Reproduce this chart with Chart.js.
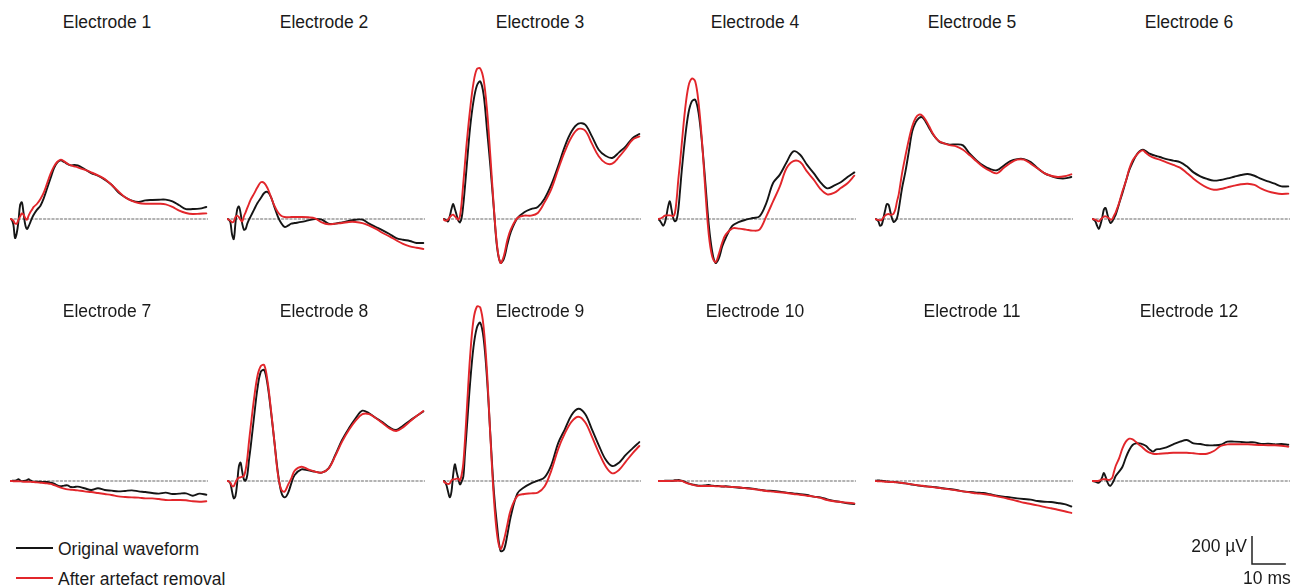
<!doctype html>
<html lang="en">
<head>
<meta charset="utf-8">
<title>Electrode waveforms</title>
<script src="https://cdn.jsdelivr.net/npm/chart.js@4.4.1/dist/chart.umd.min.js"></script>
<style>
  body { margin:0; width:1305px; height:586px; overflow:hidden; position:relative; background:#fff;
         font-family:"Liberation Sans", Arial, sans-serif; color:#1a1a1a; }
  canvas { position:absolute; }
  .title { position:absolute; width:200px; text-align:center; font-size:17.5px; line-height:17.5px; }
  .key { position:absolute; left:16px; font-size:17.5px; line-height:18px; padding-left:42px; white-space:nowrap; }
  .key span { position:absolute; left:0; top:7.4px; width:37px; height:1.8px; }
</style>
</head>
<body>

<div class="key" style="top:540px"><span style="background:#151515"></span>Original waveform</div>
<div class="key" style="top:569.5px"><span style="background:#e2262b"></span>After artefact removal</div>

<script>
// sample times (ms), shared by every electrode
const timeMs = [0,0.5,1,1.5,2,2.5,3,3.5,4,4.5,5,5.5,6,6.5,7, 8,9,10,11,12,13,14,15,16,17,18,19,20,
  22,24,26,28,30,32,34,36,38,40,42,44,46,48,50,52,54,56,58];

const electrodeNames = ['Electrode 1','Electrode 2','Electrode 3','Electrode 4','Electrode 5','Electrode 6',
  'Electrode 7','Electrode 8','Electrode 9','Electrode 10','Electrode 11','Electrode 12'];

// µV, original waveform (black)
const original1 = [0,-5,-40,-136,-100,-17,102,119,43,-40,-71,-52,-24,7,31, 67,95,150,221,293,364,405,419,407,393,383,386,383, 357,328,309,281,245,190,155,131,121,133,136,138,138,126,98,71,71,74,86];
const original2 = [0,-5,-24,-112,-143,-29,67,90,43,-33,-76,-71,-33,-5,19, 67,114,150,186,193,157,86,19,-29,-57,-48,-33,-29, -21,-10,0,-5,-33,-33,-24,-14,-5,-5,-33,-57,-81,-107,-136,-148,-157,-171,-171];
const original3 = [0,-2,-10,-17,19,71,107,71,31,-10,-24,7,102,233,376, 650,840,952,983,888,638,376,79,-207,-314,-283,-183,-95, 7,48,71,86,145,245,376,519,626,681,674,590,495,452,436,476,519,578,607];
const original4 = [0,-10,-29,-48,-29,24,90,126,67,7,-17,-5,67,198,340, 578,757,840,852,757,543,257,-40,-231,-314,-279,-195,-136, -48,-21,-5,7,19,114,257,317,405,483,459,388,328,262,219,238,262,300,333];
const original5 = [0,-5,-17,-48,-40,7,62,107,102,55,7,-21,-14,7,67, 221,340,483,626,690,721,726,693,650,609,578,552,543, 531,533,526,466,419,381,357,348,381,414,428,428,407,364,328,307,293,290,300];
const original6 = [0,-5,-17,-48,-71,-40,7,67,79,38,-5,-29,-17,7,31, 109,186,269,348,405,452,483,495,483,467,457,450,443, 428,417,407,376,333,305,286,274,279,290,302,314,321,309,286,269,252,233,233];
const original7 = [0,1,2,2,7,12,5,-2,0,2,7,12,5,-2,-5, -5,-5,-7,-7,-12,-19,-31,-38,-33,-31,-43,-43,-40, -52,-64,-52,-64,-69,-74,-71,-67,-74,-79,-86,-90,-83,-93,-90,-88,-105,-90,-98];
const original8 = [0,-2,-17,-76,-124,-107,-17,102,131,67,12,2,43,150,245, 459,662,781,793,685,495,281,67,-76,-117,-88,-17,43, 83,76,67,60,90,186,293,376,448,502,483,450,419,383,364,395,431,464,497];
const original9 = [0,-2,-29,-76,-117,-76,43,119,67,19,-24,-5,31,198,364, 697,954,1095,1131,1019,733,328,-64,-326,-500,-490,-386,-255, -88,-45,-17,2,26,114,269,369,471,516,478,369,257,155,107,131,186,233,278];
const original10 = [0,0,0,0,2,2,2,2,2,2,5,5,7,5,2, -7,-17,-24,-29,-33,-33,-31,-29,-33,-36,-36,-40,-38, -43,-48,-50,-55,-62,-69,-71,-76,-83,-88,-95,-100,-112,-117,-131,-143,-150,-160,-164];
const original11 = [2,3,4,3,2,0,-2,-3,-5,-5,-7,-7,-8,-9,-12, -14,-17,-21,-26,-29,-33,-36,-38,-40,-43,-45,-48,-52, -57,-64,-74,-79,-83,-86,-95,-105,-112,-117,-124,-129,-133,-143,-148,-150,-157,-165,-182];
const original12 = [0,-2,-5,-10,-12,2,26,57,31,-5,-29,-33,-17,7,36, 67,102,167,221,257,269,269,262,250,226,210,226,228, 240,262,281,293,269,264,255,255,259,281,281,279,276,276,264,267,262,264,259];

// µV, after artefact removal (red)
const cleaned1 = [0,-2,-12,-33,-33,-5,19,40,31,7,-5,24,48,67,86, 109,143,190,257,324,376,409,424,412,395,383,376,369, 352,333,312,286,245,198,155,129,114,109,109,109,105,86,60,43,36,38,40];
const cleaned2 = [0,-5,-12,-24,-17,14,24,14,-5,-17,19,48,79,109,138, 181,226,262,257,219,157,95,50,24,14,12,14,14, 14,12,5,-24,-38,-33,-29,-21,-21,-29,-48,-71,-100,-124,-152,-178,-195,-205,-214];
const cleaned3 = [0,-10,-12,-5,14,26,31,19,7,-5,19,114,257,400,543, 781,971,1070,1075,995,781,448,90,-195,-314,-262,-152,-76, 7,24,24,43,119,214,352,483,586,643,631,538,448,400,395,443,502,566,590];
const cleaned4 = [0,2,7,14,24,26,26,26,24,19,43,138,281,400,531, 781,948,1003,983,828,555,198,-112,-267,-309,-248,-167,-112, -67,-69,-76,-83,-76,19,126,233,364,414,407,340,281,214,176,186,221,255,309];
const cleaned5 = [0,-5,-7,-10,-5,12,24,33,36,31,31,38,67,126,174, 328,452,567,662,721,745,738,705,662,614,578,555,543, 528,519,495,455,412,371,343,326,364,400,424,424,395,362,328,309,300,305,319];
const cleaned6 = [0,-2,-5,-12,-17,-5,7,17,19,14,5,-5,0,24,48, 114,198,269,357,419,452,478,490,471,452,440,431,424, 405,386,367,329,288,252,224,209,214,226,238,248,252,243,217,198,186,179,181];
const cleaned7 = [0,0,-2,-2,-2,-2,-3,-3,-5,-5,-5,-5,-5,-7,-7, -10,-12,-14,-17,-21,-29,-38,-48,-55,-60,-62,-64,-67, -74,-79,-86,-93,-100,-110,-114,-117,-119,-124,-124,-129,-136,-136,-136,-138,-145,-148,-145];
const cleaned8 = [0,-2,-12,-36,-36,-10,12,24,26,31,36,79,162,281,388, 590,750,821,828,709,507,281,55,-60,-76,-29,19,74, 102,83,67,60,88,179,281,364,431,478,478,448,412,376,357,383,424,464,500];
const cleaned9 = [0,-10,-17,-21,-17,5,12,12,17,17,2,43,126,293,495, 888,1150,1245,1240,1100,781,317,-112,-386,-486,-421,-314,-207, -107,-93,-88,-83,-40,74,226,340,424,459,419,317,205,107,55,79,138,198,250];
const cleaned10 = [0,0,0,0,0,0,0,0,1,1,2,2,2,2,1, -10,-19,-26,-31,-36,-36,-36,-36,-36,-38,-38,-38,-40, -43,-45,-52,-57,-64,-71,-76,-81,-86,-93,-98,-105,-112,-121,-136,-145,-150,-155,-160];
const cleaned11 = [0,-1,-2,-2,-3,-4,-5,-5,-6,-7,-7,-8,-9,-10,-10, -14,-17,-21,-24,-28,-31,-34,-38,-41,-44,-47,-50,-53, -60,-67,-74,-81,-88,-93,-100,-110,-119,-131,-143,-155,-164,-174,-185,-195,-205,-216,-228];
const cleaned12 = [0,0,0,0,2,7,12,12,12,10,7,12,24,67,107, 162,233,281,302,298,278,257,238,217,202,195,193,195, 198,202,202,202,198,193,195,214,250,262,262,262,262,259,257,255,255,252,245];

const originalSeries = [original1, original2, original3, original4, original5, original6,
  original7, original8, original9, original10, original11, original12];
const cleanedSeries = [cleaned1, cleaned2, cleaned3, cleaned4, cleaned5, cleaned6,
  cleaned7, cleaned8, cleaned9, cleaned10, cleaned11, cleaned12];

// scale bar size, in data units
const barUv = 200;
const barMs = 10;

// layout
const PX_PER_MS = 3.39;
const PX_PER_UV = 0.14;          // 200 µV -> 28 px
const T_MAX = 58.5;
const PAD = 4;
const colLeft = [10, 227, 443, 658, 875, 1092];
const rows = [
  { top: 36,  bottom: 290, base: 219, titleTop: 13.5 },
  { top: 292, bottom: 586, base: 481, titleTop: 302.5 }
];
const BLACK = '#151515';
const RED = '#e2262b';
const FONT = '17.5px "Liberation Sans", Arial, sans-serif';

// draws the L shaped scale bar, its lengths taken from the chart scales
const scaleBar = {
  id: 'scaleBar',
  afterDatasetsDraw(chart, args, opts) {
    const { ctx, scales: { x, y } } = chart;
    const w = x.getPixelForValue(barMs) - x.getPixelForValue(0);
    const h = y.getPixelForValue(0) - y.getPixelForValue(barUv);
    const cx = opts.cornerX, cy = opts.cornerY;
    ctx.save();
    ctx.strokeStyle = '#222';
    ctx.lineWidth = 1.5;
    ctx.beginPath();
    ctx.moveTo(cx, cy - h);
    ctx.lineTo(cx, cy);
    ctx.lineTo(cx + w, cy);
    ctx.stroke();
    ctx.fillStyle = '#1a1a1a';
    ctx.font = FONT;
    ctx.textBaseline = 'alphabetic';
    ctx.textAlign = 'right';
    ctx.fillText(barUv + ' µV', cx - 5, cy - 12);
    ctx.textAlign = 'center';
    ctx.fillText(barMs + ' ms', cx + w / 2 - 2, cy + 20);
    ctx.restore();
  }
};

function toPoints(values) {
  return values.map((v, j) => ({ x: timeMs[j], y: v }));
}

const charts = [];
for (let i = 0; i < electrodeNames.length; i++) {
  const row = rows[Math.floor(i / 6)];
  const col = i % 6;
  const left = colLeft[col] - PAD;
  const width = Math.round(T_MAX * PX_PER_MS) + 2 * PAD;
  const height = row.bottom - row.top;

  const canvas = document.createElement('canvas');
  canvas.width = width;
  canvas.height = height;
  canvas.style.left = left + 'px';
  canvas.style.top = row.top + 'px';
  document.body.appendChild(canvas);

  const title = document.createElement('div');
  title.className = 'title';
  title.style.left = (colLeft[col] + 97 - 100) + 'px';
  title.style.top = row.titleTop + 'px';
  title.textContent = electrodeNames[i];
  document.body.appendChild(title);

  const isLast = i === electrodeNames.length - 1;
  const chart = new Chart(canvas.getContext('2d'), {
    type: 'line',
    data: {
      datasets: [
        { label: 'After artefact removal', data: toPoints(cleanedSeries[i]),
          borderColor: RED, borderWidth: 1.9 },
        { label: 'Original waveform', data: toPoints(originalSeries[i]),
          borderColor: BLACK, borderWidth: 1.9 },
        { label: 'baseline', data: [{ x: 0, y: 0 }, { x: T_MAX, y: 0 }],
          borderColor: '#9a9a9a', borderWidth: 1.5, borderDash: [2, 2.2], tension: 0 }
      ]
    },
    options: {
      responsive: false,
      animation: false,
      devicePixelRatio: 1,
      layout: { padding: { left: PAD, right: PAD, top: 0, bottom: 0 } },
      elements: {
        point: { radius: 0 },
        line: { tension: 0.35, borderCapStyle: 'round', borderJoinStyle: 'round' }
      },
      scales: {
        x: { type: 'linear', min: 0, max: T_MAX, display: false },
        y: { min: -(row.bottom - row.base) / PX_PER_UV, max: (row.base - row.top) / PX_PER_UV, display: false }
      },
      plugins: {
        legend: { display: false },
        tooltip: { enabled: false },
        scaleBar: { cornerX: 1252 - left, cornerY: 564 - row.top }
      }
    },
    plugins: isLast ? [scaleBar] : []
  });
  charts.push(chart);
}
</script>
</body>
</html>
